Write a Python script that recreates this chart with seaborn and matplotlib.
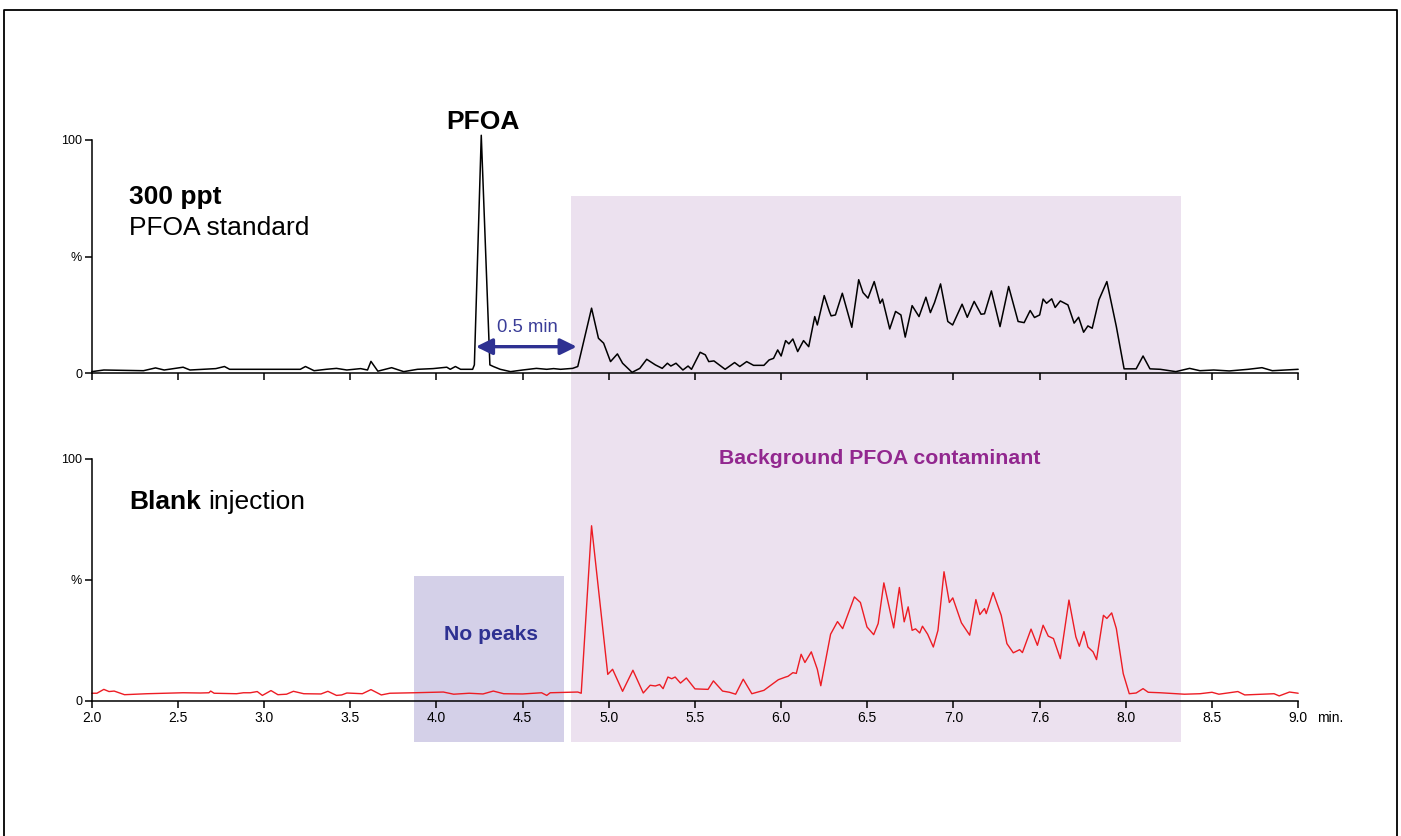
import numpy as np
import pandas as pd
import matplotlib
matplotlib.use('Agg')
import matplotlib.pyplot as plt
import matplotlib.transforms as mtransforms
from matplotlib.patches import Rectangle, ArrowStyle
from matplotlib.lines import Line2D
import seaborn as sns

sns.set_theme(style='ticks')
plt.rcParams['font.family'] = ['Liberation Sans', 'DejaVu Sans']
plt.rcParams['text.color'] = 'black'
plt.rcParams['xtick.color'] = 'black'
plt.rcParams['ytick.color'] = 'black'
plt.rcParams['axes.labelcolor'] = 'black'

# 300 ppt PFOA standard trace (time in min, relative intensity in %)
std_time = [2.00, 2.07, 2.30, 2.37, 2.42, 2.53, 2.57, 2.72, 2.77, 2.80, 3.21, 3.24, 3.29, 3.36,
            3.42, 3.48, 3.56, 3.60, 3.62, 3.66, 3.74, 3.81, 3.89, 3.98, 4.06, 4.08, 4.11, 4.14,
            4.21, 4.22, 4.26, 4.31, 4.33, 4.37, 4.43, 4.50, 4.58, 4.64, 4.68, 4.72, 4.79, 4.82,
            4.90, 4.94, 4.97, 5.01, 5.05, 5.08, 5.135, 5.18, 5.22, 5.27, 5.31, 5.34, 5.36, 5.39,
            5.43, 5.46, 5.48, 5.53, 5.56, 5.58, 5.61, 5.675, 5.73, 5.76, 5.80, 5.84, 5.90, 5.93,
            5.956, 5.98, 6.00, 6.026, 6.045, 6.068, 6.096, 6.13, 6.16, 6.195, 6.21, 6.25, 6.28,
            6.29, 6.315, 6.355, 6.41, 6.45, 6.475, 6.504, 6.54, 6.574, 6.588, 6.63, 6.664, 6.695,
            6.72, 6.76, 6.80, 6.84, 6.866, 6.89, 6.925, 6.967, 6.995, 7.05, 7.08, 7.12, 7.16,
            7.18, 7.22, 7.27, 7.32, 7.375, 7.41, 7.445, 7.47, 7.50, 7.52, 7.54, 7.57, 7.59, 7.62,
            7.664, 7.70, 7.726, 7.755, 7.78, 7.805, 7.844, 7.89, 7.945, 7.99, 8.06, 8.10, 8.14,
            8.20, 8.29, 8.37, 8.43, 8.51, 8.60, 8.71, 8.79, 8.85, 9.00]
std_pct = [0.7, 1.4, 1.1, 2.3, 1.4, 2.6, 1.4, 2.0, 2.9, 1.7, 1.7, 2.9, 1.1, 1.7,
           2.1, 1.4, 2.0, 1.4, 5.1, 0.9, 2.4, 0.7, 1.7, 2.0, 2.6, 1.7, 2.9, 1.7,
           1.7, 3.6, 102.0, 3.6, 2.9, 1.7, 0.7, 1.4, 2.1, 1.7, 2.0, 1.7, 2.1, 2.9,
           27.9, 15.0, 12.9, 5.0, 8.3, 4.3, 0.4, 2.1, 6.0, 3.6, 2.1, 4.3, 3.1, 4.3,
           1.4, 3.1, 1.7, 9.0, 7.9, 5.0, 5.3, 1.7, 4.6, 2.9, 5.0, 3.4, 3.4, 5.7,
           6.4, 10.0, 7.4, 14.0, 12.6, 14.7, 9.3, 14.0, 11.4, 24.3, 20.7, 33.3, 26.5,
           24.6, 25.0, 34.3, 19.7, 40.1, 34.6, 32.2, 39.3, 30.0, 31.8, 19.0, 26.5, 25.0,
           15.5, 29.0, 24.3, 32.6, 26.0, 30.3, 38.3, 22.2, 20.7, 29.6, 24.0, 30.8, 25.3,
           25.5, 35.3, 20.0, 37.2, 22.2, 21.7, 26.9, 23.9, 25.0, 31.8, 30.0, 31.9, 28.2, 31.0,
           29.3, 21.5, 24.0, 17.6, 20.3, 19.3, 31.5, 39.3, 20.0, 1.9, 1.9, 7.4, 1.9,
           1.7, 0.7, 2.1, 1.1, 1.4, 1.0, 1.7, 2.4, 1.1, 1.7]

# blank injection trace
blank_time = [2.00, 2.03, 2.07, 2.10, 2.13, 2.19, 2.32, 2.53, 2.63, 2.68, 2.69, 2.71, 2.84, 2.88,
              2.92, 2.96, 2.99, 3.04, 3.08, 3.13, 3.17, 3.23, 3.33, 3.37, 3.42, 3.45, 3.48, 3.57,
              3.62, 3.68, 3.73, 3.87, 4.04, 4.10, 4.19, 4.27, 4.33, 4.39, 4.50, 4.61, 4.64, 4.66,
              4.82, 4.84, 4.90, 4.994, 5.022, 5.08, 5.14, 5.20, 5.24, 5.27, 5.295, 5.315, 5.343,
              5.365, 5.385, 5.416, 5.45, 5.50, 5.576, 5.607, 5.66, 5.70, 5.736, 5.78, 5.83, 5.90,
              5.984, 6.026, 6.04, 6.068, 6.088, 6.116, 6.138, 6.175, 6.21, 6.23, 6.287, 6.327,
              6.357, 6.425, 6.46, 6.498, 6.537, 6.563, 6.596, 6.653, 6.686, 6.714, 6.737, 6.76,
              6.78, 6.804, 6.82, 6.85, 6.883, 6.91, 6.945, 6.976, 6.996, 7.046, 7.094, 7.13, 7.153,
              7.18, 7.19, 7.23, 7.277, 7.31, 7.347, 7.384, 7.40, 7.45, 7.487, 7.52, 7.55, 7.58,
              7.62, 7.67, 7.71, 7.73, 7.757, 7.78, 7.81, 7.83, 7.87, 7.89, 7.918, 7.945, 7.985,
              8.02, 8.06, 8.10, 8.13, 8.20, 8.34, 8.43, 8.50, 8.54, 8.65, 8.69, 8.86, 8.89, 8.95,
              9.00]
blank_pct = [3.2, 3.2, 4.8, 3.9, 4.1, 2.6, 3.0, 3.4, 3.3, 3.4, 4.1, 3.2, 3.0, 3.4,
             3.4, 3.9, 2.3, 4.3, 2.6, 2.8, 4.0, 3.0, 2.9, 4.0, 2.3, 2.5, 3.3, 3.0,
             4.7, 2.5, 3.2, 3.4, 3.7, 2.8, 3.2, 2.9, 4.1, 3.0, 2.9, 3.4, 2.3, 3.4,
             3.7, 3.2, 72.4, 11.0, 13.1, 4.0, 12.7, 3.3, 6.5, 6.2, 6.8, 5.1, 9.9,
             9.2, 9.9, 7.4, 9.5, 5.0, 4.8, 8.3, 4.1, 3.6, 2.8, 9.0, 3.0, 4.4,
             8.8, 9.9, 10.2, 11.7, 11.4, 19.3, 15.9, 20.3, 13.1, 6.3, 27.6, 32.8,
             29.9, 43.0, 40.7, 30.6, 27.4, 32.0, 48.8, 30.2, 46.9, 32.7, 38.9, 29.2,
             29.8, 28.1, 30.9, 27.6, 22.3, 29.2, 53.4, 40.7, 42.6, 32.3, 27.2, 41.9, 35.7,
             38.2, 36.1, 44.8, 35.4, 23.7, 19.9, 21.2, 20.0, 29.7, 23.0, 31.3, 26.8, 25.8,
             17.5, 41.7, 26.5, 22.6, 28.7, 22.3, 20.3, 17.1, 35.4, 34.1, 36.4, 29.9, 11.3,
             3.0, 3.3, 5.1, 3.6, 3.4, 2.8, 3.0, 3.6, 2.8, 3.9, 2.5, 3.0, 2.1, 3.7,
             3.2]

x_ticks = [2.0, 2.5, 3.0, 3.5, 4.0, 4.5, 5.0, 5.5, 6.0, 6.5, 7.0, 7.5, 8.0, 8.5, 9.0]
x_tick_labels = ['2.0', '2.5', '3.0', '3.5', '4.0', '4.5', '5.0', '5.5', '6.0', '6.5',
                 '7.0', '7.6', '8.0', '8.5', '9.0']
y_ticks = [0, 50, 100]
y_tick_labels = ['0', '%', '100']

# highlighted retention windows (min)
background_window = (4.779, 8.321)
no_peak_window = (3.870, 4.741)

navy = '#2e3192'
purple = '#92278f'

std_df = pd.DataFrame({'time': std_time, 'pct': std_pct})
blank_df = pd.DataFrame({'time': blank_time, 'pct': blank_pct})

fig = plt.figure(figsize=(14.01, 8.36), dpi=100)
fig.patch.set_facecolor('white')
ax_top = fig.add_axes([0.0655, 0.5535, 0.8611, 0.2791])
ax_bot = fig.add_axes([0.0655, 0.1615, 0.8611, 0.2895])

sns.lineplot(data=std_df, x='time', y='pct', color='black', lw=1.1, ax=ax_top)
sns.lineplot(data=blank_df, x='time', y='pct', color='#ed1c24', lw=1.0, ax=ax_bot)

for ax in (ax_top, ax_bot):
    ax.patch.set_alpha(0)
    ax.set_xlim(2, 9)
    ax.set_ylim(0, 100)
    for ln in ax.lines:
        ln.set_clip_on(False)
    ax.set_xticks(x_ticks)
    ax.set_yticks(y_ticks)
    ax.set_yticklabels(y_tick_labels)
    ax.set_xlabel('')
    ax.set_ylabel('')
    sns.despine(ax=ax)
    for s in ('left', 'bottom'):
        ax.spines[s].set_linewidth(1.1)
        ax.spines[s].set_color('black')
    ax.tick_params(axis='both', length=5, width=1.1, color='black', labelcolor='black',
                   direction='out')
    ax.tick_params(axis='y', labelsize=9, pad=2)
    ax.tick_params(axis='x', labelsize=10, pad=2.5)

ax_top.set_xticklabels([])
ax_bot.set_xticklabels(x_tick_labels)
ax_bot.annotate('min.', xy=(9.0, 0), xycoords=('data', 'axes fraction'),
                xytext=(13.5, -7.5), textcoords='offset points',
                ha='left', va='top', fontsize=10, color='black')

# shaded windows spanning both chromatograms
blend = mtransforms.blended_transform_factory(ax_top.transData, fig.transFigure)
fig.add_artist(Rectangle((background_window[0], 0.1124),
                         background_window[1] - background_window[0], 0.7659 - 0.1124,
                         transform=blend, facecolor='#ece1ef', edgecolor='none', zorder=-1))
fig.add_artist(Rectangle((no_peak_window[0], 0.1124),
                         no_peak_window[1] - no_peak_window[0], 0.311 - 0.1124,
                         transform=blend, facecolor='#d4d0e8', edgecolor='none', zorder=-1))

# labels
ax_top.text(4.27, 104.6, 'PFOA', ha='center', va='baseline', fontsize=19, fontweight='bold')
ax_top.text(0.031, 0.7244, '300 ppt', transform=ax_top.transAxes, ha='left', va='baseline',
            fontsize=19, fontweight='bold')
ax_top.text(0.031, 0.5928, 'PFOA standard', transform=ax_top.transAxes, ha='left',
            va='baseline', fontsize=19)
ax_top.text(4.53, 17.8, '0.5 min', ha='center', va='baseline', fontsize=13.3, color='#3a3d98')
ax_top.annotate('', xy=(4.229, 11.4), xytext=(4.814, 11.4),
                arrowprops=dict(arrowstyle=ArrowStyle('<|-|>', head_length=0.55, head_width=0.27),
                                mutation_scale=18, color=navy, lw=2.4,
                                shrinkA=0, shrinkB=0))

blank_lbl = ax_bot.text(0.031, 0.792, 'Blank', transform=ax_bot.transAxes, ha='left',
                        va='baseline', fontsize=19, fontweight='bold')
ax_bot.annotate('injection', xy=(1, 0), xycoords=blank_lbl, xytext=(5.3, 0),
                textcoords='offset points', ha='left', va='bottom', fontsize=19)
ax_bot.text(4.317, 25.2, 'No peaks', ha='center', va='baseline', fontsize=15.2,
            fontweight='bold', color=navy)
ax_bot.text(6.575, 97.8, 'Background PFOA contaminant', ha='center', va='baseline',
            fontsize=15.3, fontweight='bold', color=purple)

# frame around the figure (open at the bottom)
fig.add_artist(Line2D([0.0025, 0.0025, 0.9968, 0.9968], [-0.01, 0.9886, 0.9886, -0.01],
                      transform=fig.transFigure, color='black', lw=1.3))

fig.savefig('out.png', dpi=100)
